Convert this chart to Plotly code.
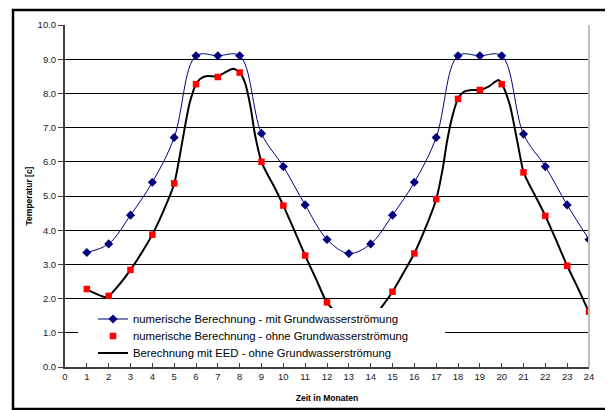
import plotly.graph_objects as go

months = list(range(1, 25))
mit_gw = [3.35, 3.6, 4.44, 5.4, 6.71, 9.1, 9.1, 9.1, 6.83, 5.86, 4.74, 3.73,
          3.32, 3.6, 4.44, 5.4, 6.71, 9.1, 9.1, 9.1, 6.81, 5.86, 4.74, 3.73]
ohne_gw = [2.28, 2.08, 2.84, 3.87, 5.37, 8.27, 8.48, 8.61, 6.0, 4.72, 3.26, 1.89,
           1.25, 1.35, 2.2, 3.32, 4.91, 7.84, 8.1, 8.27, 5.69, 4.42, 2.96, 1.62]

eed_t = [1.0, 1.5, 1.8, 2.0, 2.5, 3.0, 3.5, 4.0, 4.5, 5.0, 5.25, 5.5, 5.7, 6.0,
         6.2, 6.5, 7.0, 7.3, 7.7, 8.0, 8.25, 8.5, 8.7, 9.0, 9.3, 9.6, 10.0, 10.5,
         11.0, 11.5, 12.0, 12.5, 13.0, 13.5, 14.0, 14.5, 15.0, 15.5, 16.0, 16.5,
         17.0, 17.3, 17.5, 17.75, 18.0, 18.25, 18.6, 19.0, 19.4, 19.85, 20.0, 20.2,
         20.4, 20.7, 21.0, 21.25, 21.5, 22.0, 22.5, 23.0, 23.5, 24.0]
eed_v = [2.27, 2.12, 2.05, 2.07, 2.42, 2.84, 3.33, 3.87, 4.55, 5.35, 6.15, 7.05, 7.7, 8.27,
         8.43, 8.51, 8.5, 8.6, 8.72, 8.62, 8.3, 7.6, 6.8, 6.0, 5.6, 5.25, 4.72, 4.0,
         3.26, 2.57, 1.88, 1.55, 1.25, 1.15, 1.35, 1.75, 2.2, 2.75, 3.32, 4.05,
         4.9, 5.8, 6.6, 7.35, 7.84, 8.04, 8.1, 8.1, 8.2, 8.39, 8.3, 8.0,
         7.6, 6.65, 5.7, 5.35, 5.05, 4.42, 3.7, 2.96, 2.3, 1.6]

names = ["numerische Berechnung - mit Grundwasserströmung",
         "numerische Berechnung - ohne Grundwasserströmung",
         "Berechnung mit EED - ohne Grundwasserströmung"]

x_ticks = list(range(0, 25))
y_ticks = [i * 1.0 for i in range(0, 11)]

FONT = "Liberation Sans, Arial, sans-serif"

fig = go.Figure()
fig.add_trace(go.Scatter(
    x=months, y=mit_gw, name=names[0], mode="lines+markers",
    line=dict(color="#000080", width=1, shape="spline", smoothing=1.0),
    marker=dict(symbol="diamond", size=7, color="#000080"),
    legend="legend"))
fig.add_trace(go.Scatter(
    x=eed_t, y=eed_v, name=names[2], mode="lines",
    line=dict(color="#000000", width=2, shape="spline", smoothing=0.6),
    legend="legend3"))
fig.add_trace(go.Scatter(
    x=months, y=ohne_gw, name=names[1], mode="markers",
    marker=dict(symbol="square", size=6.5, color="#FF0000"),
    legend="legend2"))

# page body has an 8px margin: figure drawn 8px right/down of the window origin
OFF = 8
PL, PR, PT, PB = 65, 589, 25, 367   # plot area in window pixels
W, H = 613 - OFF, 410 - OFF
PW, PH = PR - PL, PB - PT

leg_font = dict(family=FONT, size=11.3, color="#000000")
def leg(ypix):
    return dict(x=(93 - PL) / PW, y=(PB - ypix) / PH, xanchor="left", yanchor="middle",
                bgcolor="rgba(0,0,0,0)", borderwidth=0, font=leg_font, itemwidth=30)

def px_x(p):
    return (p - PL) / PW

def px_y(p):
    return (PB - p) / PH

fig.update_layout(
    width=W, height=H,
    margin=dict(l=PL - OFF, r=W - (PR - OFF), t=PT - OFF, b=H - (PB - OFF), autoexpand=False),
    paper_bgcolor="white", plot_bgcolor="white",
    font=dict(family=FONT, size=9, color="#222222"),
    showlegend=True,
    legend=leg(319), legend2=leg(336), legend3=leg(353),
    xaxis=dict(range=[0, 24], tickmode="array", tickvals=x_ticks,
               ticktext=[str(t) for t in x_ticks], automargin=False,
               showgrid=False, zeroline=False, showline=True,
               linecolor="#404040", linewidth=2,
               ticks="inside", ticklen=4, tickcolor="#404040",
               tickfont=dict(size=9.5, color="#1a1a1a"),
               title=dict(text="<b>Zeit in Monaten</b>", font=dict(size=8.5, color="#000000"),
                          standoff=14)),
    yaxis=dict(range=[0, 10], tickmode="array", tickvals=y_ticks,
               ticktext=[f"{t:.1f}" for t in y_ticks], automargin=False,
               showgrid=True, gridcolor="#000000", gridwidth=1,
               zeroline=False, showline=True,
               linecolor="#404040", linewidth=2,
               ticks="outside", ticklen=5, tickcolor="#404040",
               tickfont=dict(size=9.5, color="#1a1a1a"),
               title=dict(text="<b>Temperatur [c]</b>", font=dict(size=8.5, color="#000000"),
                          standoff=4)),
)

# legend background box (white, covers grid and curves)
fig.add_shape(type="rect", xref="paper", yref="paper",
              x0=px_x(78), x1=px_x(445), y0=px_y(362), y1=px_y(308),
              fillcolor="white", line=dict(width=0), layer="above")
# plot area right border
fig.add_shape(type="line", xref="paper", yref="paper",
              x0=1, x1=1, y0=0, y1=1,
              line=dict(color="#c0c0c0", width=2), layer="above")
# outer chart frame
fig.add_shape(type="rect", xref="paper", yref="paper",
              x0=px_x(13), x1=px_x(607), y0=px_y(409), y1=px_y(10),
              line=dict(color="#000000", width=2.5), fillcolor="rgba(0,0,0,0)",
              layer="above")

fig.write_html("out.html")
